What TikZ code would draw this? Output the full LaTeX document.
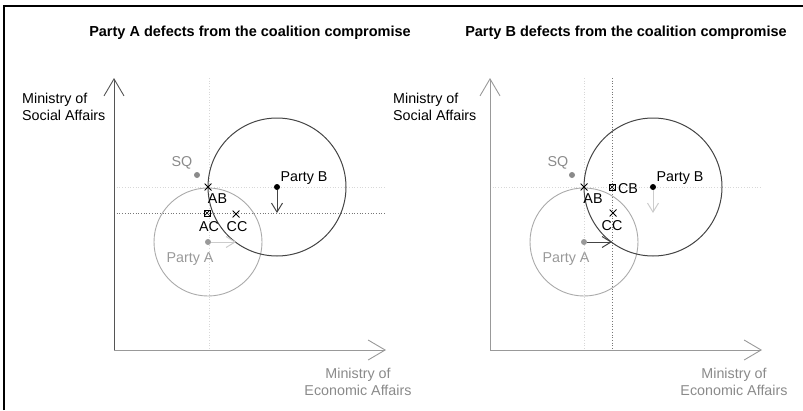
\documentclass[tikz,border=0pt]{standalone}
\usepackage{fontspec}
\setmainfont{Liberation Sans}
\usetikzlibrary{arrows.meta}
\definecolor{axdark}{HTML}{555555}
\definecolor{axlight}{HTML}{999999}
\definecolor{circA}{HTML}{AAAAAA}
\definecolor{circB}{HTML}{444444}
\definecolor{faint}{HTML}{D8D8D8}
\definecolor{dotdark}{HTML}{777777}
\definecolor{txtgray}{HTML}{8A8A8A}
\definecolor{arrfaint}{HTML}{CCCCCC}
\begin{document}
\begin{tikzpicture}[x=1pt,y=-1pt,
  lbl/.style={font=\fontsize{14.3}{17}\selectfont, inner sep=0pt, anchor=base},
  ttl/.style={font=\fontsize{14.5}{17}\selectfont\bfseries, inner sep=0pt, anchor=base},
  axis/.style={line width=0.9pt, -{Straight Barb[length=17pt,width=20pt,line width=0.9pt]}},
  mv/.style={line width=1pt, -{Straight Barb[length=9pt,width=11pt,line width=1pt]}},
  dots/.style={line width=0.9pt, dash pattern=on 0.9pt off 1.8pt},
  dotmk/.style={circle, fill, minimum size=6pt, inner sep=0pt},
  xmk/.style={minimum size=7pt, inner sep=0pt, path picture={
     \draw[line width=0.9pt] (path picture bounding box.north west) -- (path picture bounding box.south east)
       (path picture bounding box.north east) -- (path picture bounding box.south west);}},
  bxmk/.style={draw, line width=0.8pt, minimum size=6pt, inner sep=0pt, path picture={
     \draw[line width=0.7pt] (path picture bounding box.north west) -- (path picture bounding box.south east)
       (path picture bounding box.north east) -- (path picture bounding box.south west);}}
]
\useasboundingbox (0,0) rectangle (803,410);
% frame
\coordinate (fTL) at (4,6);
\coordinate (fTR) at (803,6);
\coordinate (fBL) at (4,410);
\draw[line width=1.3pt] (fBL) -- (fTL) -- (fTR);

% ================= left panel =================
\node[ttl] (t1) at (250,36) {Party A defects from the coalition compromise};
\coordinate (O1) at (114,350);
\coordinate (Y1) at (114,78);
\coordinate (X1) at (386,350);
% dotted guides
\coordinate (v1a) at (209,78); \coordinate (v1b) at (209,350);
\coordinate (h1a) at (114,187); \coordinate (h1b) at (386,187);
\coordinate (h2a) at (114,213); \coordinate (h2b) at (386,213);
\draw[dots, faint] (v1a) -- (v1b);
\draw[dots, faint] (h1a) -- (h1b);
\draw[dots, dotdark] (h2a) -- (h2b);
\draw[axis, axdark] (O1) -- (Y1);
\draw[axis, axlight] (O1) -- (X1);
\node[lbl, anchor=base west, align=left] (ys1) at (22,120) {Ministry of\\Social Affairs};
\node[lbl, align=center, text=txtgray] (xs1) at (358,395) {Ministry of\\Economic Affairs};
% points
\node[dotmk, fill=txtgray] (SQ1) at (197,175) {};
\node[dotmk, fill=axlight] (PA1) at (208,242) {};
\node[dotmk, fill=black] (PB1) at (277,187) {};
\draw[circA, line width=0.9pt] (PA1.center) circle[radius=54];
\draw[circB, line width=1pt] (PB1.center) circle[radius=69];
\coordinate (PB1e) at (277,213);
\coordinate (PA1e) at (236,242);
\draw[mv, circB] (PB1) -- (PB1e);
\draw[mv, arrfaint] (PA1) -- (PA1e);
\node[xmk] (AB1) at (208,187) {};
\node[bxmk] (AC1) at (207,213) {};
\node[xmk] (CC1) at (236,214) {};
\node[lbl, text=txtgray] (lSQ1) at (182,166) {SQ};
\node[lbl] (lAB1) at (217.5,203) {AB};
\node[lbl] (lAC1) at (209,231) {AC};
\node[lbl] (lCC1) at (237,231) {CC};
\node[lbl] (lPB1) at (304,181) {Party B};
\node[lbl, text=axlight] (lPA1) at (190,262) {Party A};

% ================= right panel =================
\node[ttl] (t2) at (626,36) {Party B defects from the coalition compromise};
\coordinate (O2) at (490,350);
\coordinate (Y2) at (490,78);
\coordinate (X2) at (762,350);
\coordinate (v2a) at (584,78); \coordinate (v2b) at (584,350);
\coordinate (v3a) at (612,78); \coordinate (v3b) at (612,350);
\coordinate (h3a) at (490,187); \coordinate (h3b) at (762,187);
\draw[dots, faint] (v2a) -- (v2b);
\draw[dots, faint] (h3a) -- (h3b);
\draw[dots, dotdark] (v3a) -- (v3b);
\draw[axis, axlight] (O2) -- (Y2);
\draw[axis, axlight] (O2) -- (X2);
\node[lbl, anchor=base west, align=left] (ys2) at (393,120) {Ministry of\\Social Affairs};
\node[lbl, align=center, text=txtgray] (xs2) at (734,395) {Ministry of\\Economic Affairs};
\node[dotmk, fill=txtgray] (SQ2) at (572,175) {};
\node[dotmk, fill=axlight] (PA2) at (584,242) {};
\node[dotmk, fill=black] (PB2) at (653,187) {};
\draw[circA, line width=0.9pt] (PA2.center) circle[radius=54];
\draw[circB, line width=1pt] (PB2.center) circle[radius=69];
\coordinate (PB2e) at (653,213);
\coordinate (PA2e) at (612,242);
\draw[mv, arrfaint] (PB2) -- (PB2e);
\draw[mv, circB] (PA2) -- (PA2e);
\node[xmk] (AB2) at (584,187) {};
\node[bxmk] (CB2) at (612,187) {};
\node[xmk] (CC2) at (613,213) {};
\node[lbl, text=txtgray] (lSQ2) at (558,166) {SQ};
\node[lbl] (lAB2) at (593,203) {AB};
\node[lbl] (lCB2) at (628,193) {CB};
\node[lbl] (lCC2) at (612,230) {CC};
\node[lbl] (lPB2) at (680,181) {Party B};
\node[lbl, text=axlight] (lPA2) at (566,262) {Party A};
\end{tikzpicture}
\end{document}
